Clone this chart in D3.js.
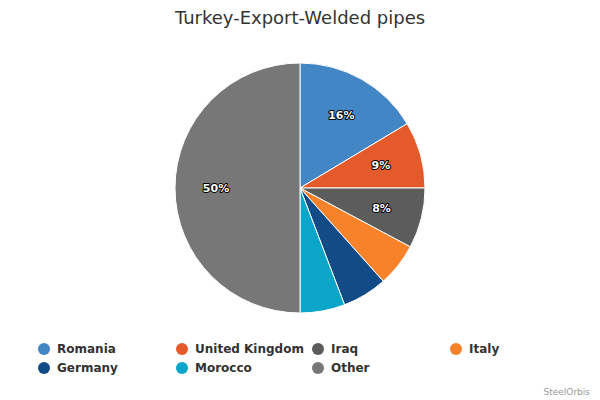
<!DOCTYPE html>
<html><head><meta charset="utf-8">
<script src="https://cdn.jsdelivr.net/npm/d3@7"></script>
<style>body{margin:0;background:#fff;font-family:"Lucida Grande","DejaVu Sans",sans-serif}</style>
</head><body><svg width="600" height="400"></svg>
<script>
const categories = ['Romania', 'United Kingdom', 'Iraq', 'Italy', 'Germany', 'Morocco', 'Other'];
const values = [16.4, 8.6, 7.8, 5.6, 5.8, 5.8, 50.0];
const labels = ['16%', '9%', '8%', '', '', '', '50%'];
const colors = ['#4286c6', '#e55a2a', '#5c5c5c', '#f7822a', '#134b87', '#0ba5ca', '#777777'];

const svg = d3.select('svg');

svg.append('text')
  .attr('x', 300).attr('y', 24)
  .attr('text-anchor', 'middle')
  .style('font-size', '18px').style('fill', '#333')
  .text('Turkey-Export-Welded pipes');

const pie = d3.pie().sort(null).value(d => d)(values);
const arc = d3.arc().innerRadius(0).outerRadius(125);
const g = svg.append('g').attr('transform', 'translate(300,188)');

g.selectAll('path').data(pie).enter().append('path')
  .attr('d', arc)
  .attr('fill', (d, i) => colors[i])
  .attr('stroke', '#fff').attr('stroke-width', 1);

const labelArc = d3.arc().innerRadius(84).outerRadius(84);
g.selectAll('text.lbl').data(pie).enter().append('text')
  .attr('transform', d => `translate(${labelArc.centroid(d)})`)
  .attr('text-anchor', 'middle').attr('dy', '0.35em')
  .style('font-size', '11px').style('font-weight', 'bold')
  .style('fill', '#fff').style('stroke', '#000').style('stroke-width', 2)
  .style('paint-order', 'stroke').style('stroke-linejoin', 'round')
  .text((d, i) => labels[i]);

const legendX = [44, 182, 318, 456];
const legend = svg.append('g').selectAll('g').data(categories).enter().append('g')
  .attr('transform', (d, i) => `translate(${legendX[i % 4]},${349 + Math.floor(i / 4) * 19})`);
legend.append('circle').attr('r', 6).attr('fill', (d, i) => colors[i]);
legend.append('text').attr('x', 13).attr('dy', '0.35em')
  .style('font-size', '12px').style('font-weight', 'bold').style('fill', '#333')
  .text(d => d);

svg.append('text')
  .attr('x', 590).attr('y', 395).attr('text-anchor', 'end')
  .style('font-size', '9px').style('fill', '#999')
  .text('SteelOrbis');
</script></body></html>
